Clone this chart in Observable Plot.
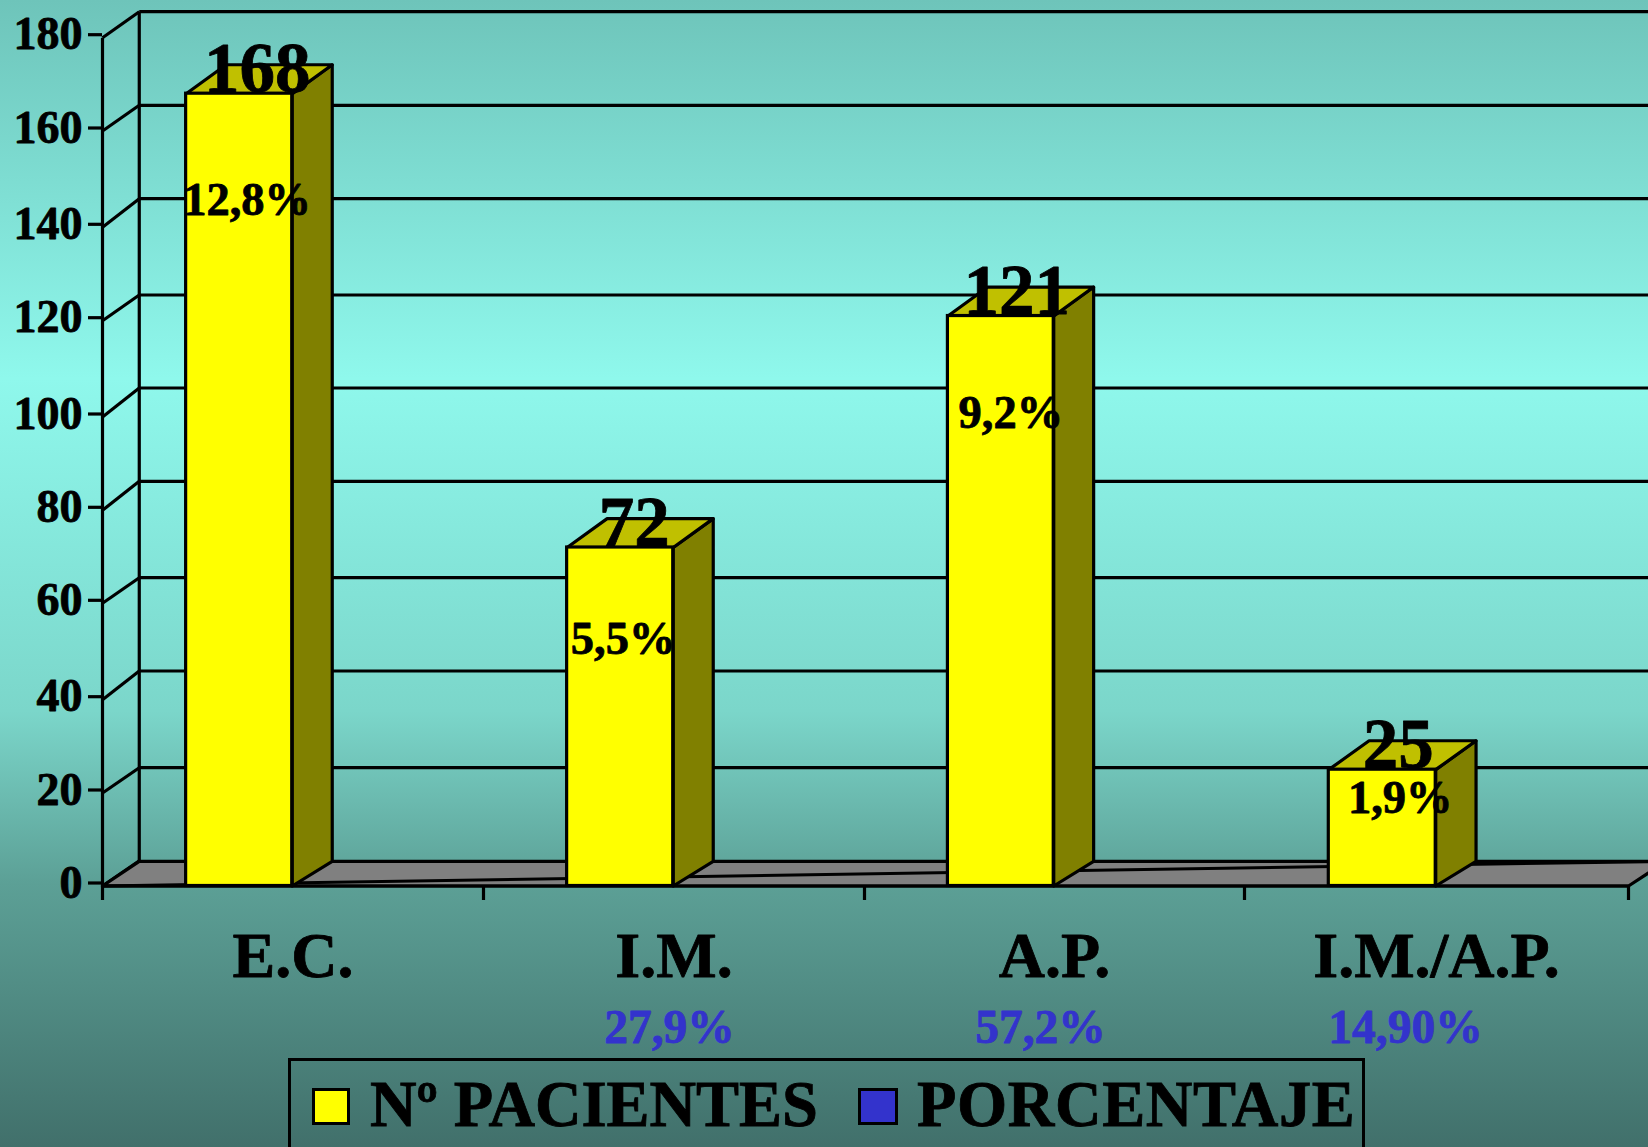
<!DOCTYPE html>
<html>
<head>
<meta charset="utf-8">
<script src="https://cdn.jsdelivr.net/npm/d3@7"></script>
<script src="https://cdn.jsdelivr.net/npm/@observablehq/plot@0.6"></script>
<style>
  html, body { margin: 0; padding: 0; width: 1648px; height: 1147px; overflow: hidden; }
  body {
    position: relative;
    background: linear-gradient(180deg, #6ec4ba 0%, #8ff8ec 33%, #7bd6ca 62%, #5ca096 77%, #41706b 100%);
    font-family: "Liberation Serif", "Times New Roman", serif;
  }
  #legend { position: absolute; left: 288px; top: 1058px; width: 1077px; height: 120px; border: 3px solid #000; box-sizing: border-box; }
  #legend .sw { position: absolute; top: 27px; height: 37px; border: 3px solid #000; box-sizing: border-box; }
  #legend .tx { position: absolute; top: 8px; font-weight: bold; font-size: 64.5px; line-height: 72px; white-space: nowrap; color: #000; -webkit-text-stroke: 0.8px #000; }
</style>
</head>
<body>
<div id="chart"></div>
<div id="legend"></div>
<script>
const categories = ["E.C.", "I.M.", "A.P.", "I.M./A.P."];
const patients = [168, 72, 121, 25];
const patientShare = ["12,8%", "5,5%", "9,2%", "1,9%"];
const groupShare = ["", "27,9%", "57,2%", "14,90%"];
const yTicks = [0, 20, 40, 60, 80, 100, 120, 140, 160, 180];
const legendNames = ["Nº PACIENTES", "PORCENTAJE"];

// Layout. The reference's ticks are unevenly spaced, so the scales are piecewise.
const xStops = [0, 1, 2, 3, 4];
const xPixels = [102, 483, 864, 1244, 1628];
const yPixels = [886, 793, 699.7, 603.3, 510.3, 417, 320.7, 227.3, 131, 37.7].map(p => p - 0.5);
const backPixels = [860.7, 767.7, 671, 577.7, 481.3, 388, 295, 198.7, 105.3, 11.7].map(p => p - 0.5);
const pxToValue = d3.scaleLinear().domain(yPixels).range(yTicks);
const backLevels = backPixels.map(p => pxToValue(p));

// 3-D look: depth of the wall and of the bars, expressed in scale units
const wallDX = 0.0965, wallDY = 5.3;
const barDX = 0.105, barTopDY = 6.2;
const barStart = 0.2195, barWidth = 0.2785;
const xEnd = 4.098;

const rows = categories.map((c, i) => ({
  c, i, v: patients[i], share: patientShare[i], group: groupShare[i],
  x1: i + barStart, x2: i + barStart + barWidth
}));

const poly = (rows, f) => rows.flatMap(r => f(r).map(([x, y]) => ({ k: r.c, x, y })));
const sides = poly(rows, r => [[r.x2, 0], [r.x2 + barDX, wallDY], [r.x2 + barDX, r.v + barTopDY], [r.x2, r.v], [r.x2, 0]]);
const tops = poly(rows, r => [[r.x1, r.v], [r.x1 + barDX, r.v + barTopDY], [r.x2 + barDX, r.v + barTopDY], [r.x2, r.v], [r.x1, r.v]]);
const floor = [[0, 0], [4, 0], [xEnd, wallDY], [wallDX, wallDY], [0, 0]].map(([x, y]) => ({ x, y }));
const wallRows = yTicks.map((t, i) => ({ t, back: backLevels[i] }));

// label placement
const shareHeights = [142.6, 49.5, 97.7, 15.7];
const shareDx = [8, 3, 10, 18];
const valueDx = [18, 14, 16, 16];
const groupDx = [0, -4.5, -14, -31];

const serif = "Liberation Serif, Times New Roman, serif";
const LW = 3.2;
const textOpts = { fontFamily: serif, fontWeight: "bold", textAnchor: "middle", lineAnchor: "bottom" };

const chart = Plot.plot({
  width: 1648, height: 1147,
  marginLeft: 102, marginRight: 20, marginTop: 37, marginBottom: 261,
  style: { background: "transparent", overflow: "hidden" },
  x: { type: "linear", domain: xStops, range: xPixels, axis: null },
  y: { type: "linear", domain: yTicks, range: yPixels, axis: null },
  marks: [
    // back wall grid + side wall diagonals
    Plot.link(wallRows.filter(d => d.t > 0), { x1: wallDX, x2: xEnd, y1: "back", y2: "back", stroke: "#000", strokeWidth: LW }),
    Plot.link(wallRows, { x1: 0, x2: wallDX, y1: "t", y2: "back", stroke: "#000", strokeWidth: LW }),
    Plot.link([0], { x1: wallDX, x2: wallDX, y1: backLevels[0], y2: backLevels[9], stroke: "#000", strokeWidth: LW }),
    // floor
    Plot.line(floor, { x: "x", y: "y", fill: "#808080", stroke: "#000", strokeWidth: LW }),
    Plot.link([0], { x1: 0, x2: xEnd, y1: 0, y2: wallDY, stroke: "#000", strokeWidth: 3 }),
    // front axis lines
    Plot.link([0], { x1: 0, x2: 0, y1: 0, y2: 180, stroke: "#000", strokeWidth: LW }),
    Plot.link([0], { x1: 0, x2: 4, y1: 0, y2: 0, stroke: "#000", strokeWidth: LW }),
    // bars
    Plot.line(sides, { x: "x", y: "y", z: "k", fill: "#808000", stroke: "#000", strokeWidth: LW }),
    Plot.line(tops, { x: "x", y: "y", z: "k", fill: "#c0c000", stroke: "#000", strokeWidth: LW }),
    Plot.rect(rows, { x1: "x1", x2: "x2", y1: 0, y2: "v", fill: "#ffff00", stroke: "#000", strokeWidth: LW }),
    // axes
    Plot.axisY({ ticks: yTicks, anchor: "left", tickSize: 14, tickPadding: 6, fontSize: 46, fontFamily: serif, fontWeight: "bold", stroke: "#000", strokeWidth: LW, fill: "#000", textStroke: "#000", textStrokeWidth: 0.8, label: null, tickFormat: d => String(d), dy: -3 }),
    Plot.axisX({ ticks: xStops, anchor: "bottom", tickSize: 14, tickFormat: () => "", stroke: "#000", strokeWidth: LW, label: null }),
    // category labels
    Plot.text(rows, { ...textOpts, x: d => d.i + 0.5, y: 0, text: "c", dy: 91, fontSize: 64, fill: "#000", stroke: "#000", strokeWidth: 0.8 }),
    // blue percentages
    ...rows.filter(r => r.group).map(r => Plot.text([r], { ...textOpts, x: d => d.i + 0.5, y: 0, text: "group", dy: 157, dx: groupDx[r.i], fontSize: 47.5, fill: "#3333cc", stroke: "#3333cc", strokeWidth: 0.8 })),
    // value labels above the bars
    ...rows.map((r, j) => Plot.text([r], { ...textOpts, x: d => d.x1 + barWidth / 2, y: "v", text: d => String(d.v), dx: valueDx[j], dy: -2, fontSize: 71, fill: "#000", stroke: "#000", strokeWidth: 0.8 })),
    // percentage labels on the bars
    ...rows.map((r, j) => Plot.text([r], { ...textOpts, x: d => d.x1 + barWidth / 2, y: () => shareHeights[j], text: "share", dx: shareDx[j], fontSize: 46.5, fill: "#000", stroke: "#000", strokeWidth: 0.8 }))
  ]
});
document.getElementById("chart").append(chart);

const legend = document.getElementById("legend");
const colours = ["#ffff00", "#3333cc"];
const swLeft = [21, 567], swWidth = [38, 40], txLeft = [79, 626], txSpacing = [-0.05, 0.6];
legendNames.forEach((name, i) => {
  const s = document.createElement("div");
  s.className = "sw"; s.style.left = swLeft[i] + "px"; s.style.width = swWidth[i] + "px"; s.style.background = colours[i];
  const t = document.createElement("div");
  t.className = "tx"; t.style.left = txLeft[i] + "px"; t.style.letterSpacing = txSpacing[i] + "px"; t.textContent = name;
  legend.append(s, t);
});
</script>
</body>
</html>
